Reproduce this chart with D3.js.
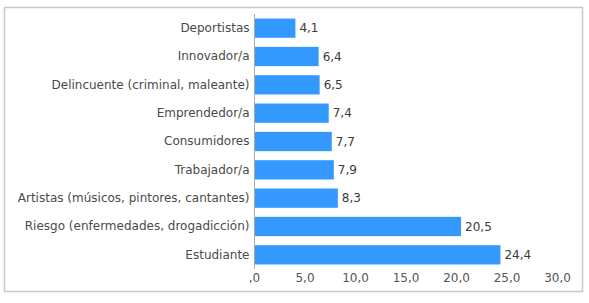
<!DOCTYPE html>
<html>
<head>
<meta charset="utf-8">
<script src="https://cdn.jsdelivr.net/npm/d3@7"></script>
<style>
  body { margin: 0; background: #fff; }
  text { font-family: "DejaVu Sans", sans-serif; }
</style>
</head>
<body>
<div id="graph_container"></div>
<script>
var categories = ["Deportistas", "Innovador/a", "Delincuente (criminal, maleante)",
    "Emprendedor/a", "Consumidores", "Trabajador/a",
    "Artistas (músicos, pintores, cantantes)", "Riesgo (enfermedades, drogadicción)", "Estudiante"];
var values = [4.1, 6.4, 6.5, 7.4, 7.7, 7.9, 8.3, 20.5, 24.4];
var tickValues = [0, 5, 10, 15, 20, 25, 30];
var tickLabels = [",0", "5,0", "10,0", "15,0", "20,0", "25,0", "30,0"];

var W = 589, H = 303;
var margin = {top: 14, left: 254, right: 32, bottom: 35};

var svg = d3.select("#graph_container").append("svg")
    .attr("width", W)
    .attr("height", H);

// title sits above the picture, only its descenders show
svg.append("text")
    .attr("x", 340)
    .attr("y", -3)
    .attr("text-anchor", "middle")
    .style("font-size", "15px")
    .style("font-weight", "bold")
    .attr("fill", "#222")
    .text("juventud, y juvenil");

// frame
svg.append("rect")
    .attr("x", 4.5).attr("y", 7.5)
    .attr("width", 578).attr("height", 284)
    .attr("fill", "none")
    .attr("stroke", "#c8c8c8")
    .attr("stroke-width", 1.5);

var xScale = d3.scaleLinear()
    .domain([0, 30])
    .range([margin.left, 557]);

var yScale = d3.scaleBand()
    .domain(categories)
    .range([margin.top, 269])
    .paddingInner(0.32)
    .paddingOuter(0.16);

var g = svg.append("g");

g.selectAll("rect.bar")
    .data(values)
    .enter()
    .append("rect")
        .attr("class", "bar")
        .attr("x", xScale(0))
        .attr("y", function(d, i) { return yScale(categories[i]); })
        .attr("width", function(d) { return xScale(d) - xScale(0); })
        .attr("height", yScale.bandwidth())
        .attr("fill", "#3399ff");

// value labels
g.selectAll("text.val")
    .data(values)
    .enter()
    .append("text")
        .attr("class", "val")
        .attr("x", function(d) { return xScale(d) + 4; })
        .attr("y", function(d, i) { return yScale(categories[i]) + yScale.bandwidth() / 2; })
        .attr("dy", "0.36em")
        .style("font-size", "12px")
        .attr("fill", "#3a3a3a")
        .text(function(d) { return d3.format(".1f")(d).replace(".", ","); });

// category labels
var yAxis = svg.append("g")
    .attr("transform", "translate(" + (margin.left + 0.5) + ",0)")
    .call(d3.axisLeft(yScale).tickSize(0).tickPadding(5));
yAxis.select(".domain").remove();
yAxis.selectAll("text")
    .style("font-size", "12px")
    .style("font-family", "DejaVu Sans, sans-serif")
    .attr("fill", "#4a4a4a");

// vertical axis line
svg.append("line")
    .attr("x1", margin.left + 0.5).attr("x2", margin.left + 0.5)
    .attr("y1", margin.top).attr("y2", 269)
    .attr("stroke", "#aaa");

// x axis
var xAxis = svg.append("g")
    .attr("transform", "translate(0,269)")
    .call(d3.axisBottom(xScale)
        .tickValues(tickValues)
        .tickSize(0)
        .tickPadding(4)
        .tickFormat(function(d, i) { return tickLabels[i]; }));
xAxis.select(".domain").remove();
xAxis.selectAll("text")
    .style("font-size", "12px")
    .style("font-family", "DejaVu Sans, sans-serif")
    .attr("fill", "#555");
</script>
</body>
</html>
